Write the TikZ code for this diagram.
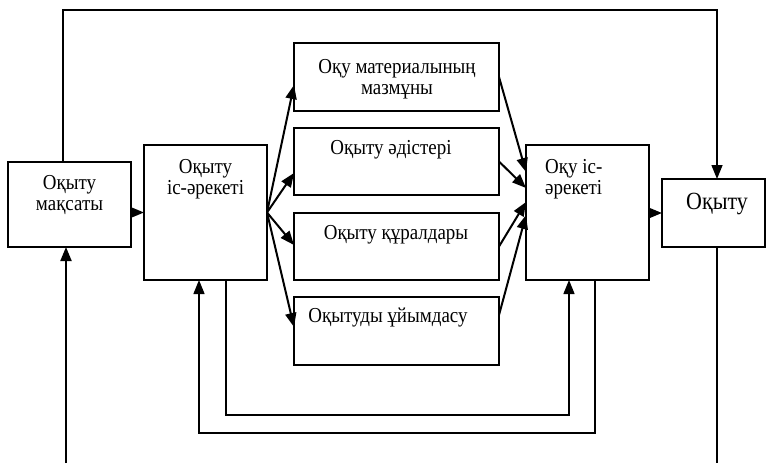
\documentclass[tikz,border=0pt]{standalone}
\usepackage{fontspec}
\setmainfont{Liberation Serif}[FakeStretch=0.89]
\usetikzlibrary{arrows.meta,calc}
\begin{document}
\begin{tikzpicture}[x=1pt,y=-1pt,
  box/.style={draw,line width=1.6pt,inner sep=0pt,outer sep=0pt},
  txt/.style={font=\fontsize{21.3}{21.5}\selectfont,align=center,inner sep=0pt},
  arr/.style={line width=2pt,-{Triangle[length=14pt,width=11pt]}},
  fb/.style={line width=1.4pt,-{Triangle[length=14pt,width=11pt]}},
  plain/.style={line width=1.4pt}]
\useasboundingbox (0,0) rectangle (767,463);
% boxes
\node[box,minimum width=123pt,minimum height=85pt] (m) at (69.5,204.5) {};
\node[box,minimum width=123pt,minimum height=135pt] (a) at (205.5,212.5) {};
\node[box,minimum width=205pt,minimum height=68pt] (c1) at (396.5,77) {};
\node[box,minimum width=205pt,minimum height=67pt] (c2) at (396.5,161.5) {};
\node[box,minimum width=205pt,minimum height=67pt] (c3) at (396.5,246.5) {};
\node[box,minimum width=205pt,minimum height=68pt] (c4) at (396.5,331) {};
\node[box,minimum width=123pt,minimum height=135pt] (b) at (587.5,212.5) {};
\node[box,minimum width=103pt,minimum height=68pt] (o) at (713.5,213) {};
% texts
\node[txt] (tm) at (69.5,195) {Оқыту\\мақсаты};
\node[txt] (ta) at (205.5,179) {Оқыту\\іс-әрекеті};
\node[txt] (t1) at (397,79) {Оқу материалының\\мазмұны};
\node[txt] (t2) at (391,150) {Оқыту әдістері};
\node[txt] (t3) at (396,235) {Оқыту құралдары};
\node[txt] (t4) at (388,318) {Оқытуды ұйымдасу};
\node[txt,align=left,anchor=west] (tb) at (545,179) {Оқу іс-\\әрекеті};
\node[txt,font=\fontsize{24.7}{28}\selectfont] (to) at (717,204) {Оқыту};
% main flow
\draw[arr] (m.east |- a.west) -- (a.west);
\draw[arr] (b.east |- o.west) -- (o.west);
% fan out
\draw[arr] (a.east) -- ($(c1.west)+(0,8)$);
\draw[arr] (a.east) -- ($(c2.west)+(0,11.5)$);
\draw[arr] (a.east) -- ($(c3.west)+(0,-1.5)$);
\draw[arr] (a.east) -- ($(c4.west)+(0,-4)$);
% fan in
\draw[arr] (c1.east) -- ($(b.west)+(0,-40.5)$);
\draw[arr] (c2.east) -- ($(b.west)+(0,-24.5)$);
\draw[arr] (c3.east) -- ($(b.west)+(0,-10.5)$);
\draw[arr] ($(c4.east)+(0,-16)$) -- ($(b.west)+(0,2.5)$);
% top connector
\coordinate (tl) at (63,10);
\coordinate (tr) at (717,10);
\draw[fb] (m.north -| tl) -- (tl) -- (tr) -- (o.north -| tr);
% outer left/right
\coordinate (bl) at (66,463);
\coordinate (br) at (717,463);
\draw[arr] (bl) -- (m.south -| bl);
\draw[plain] (o.south -| br) -- (br);
% feedback loops
\coordinate (i1) at (226,415);
\coordinate (i2) at (569,415);
\draw[fb] (a.south -| i1) -- (i1) -- (i2) -- (b.south -| i2);
\coordinate (o1) at (595,433);
\coordinate (o2) at (199,433);
\draw[fb] (b.south -| o1) -- (o1) -- (o2) -- (a.south -| o2);
\end{tikzpicture}
\end{document}
